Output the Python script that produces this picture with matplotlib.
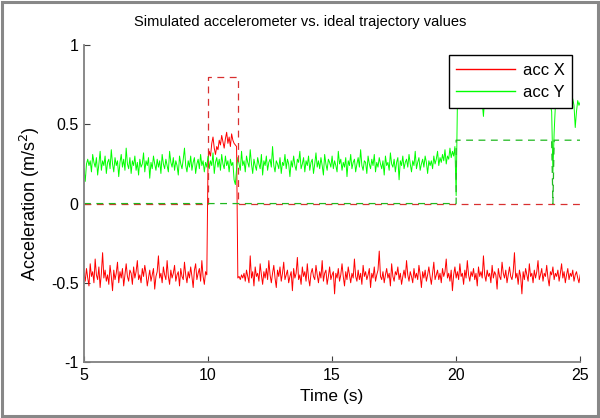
import numpy as np
import matplotlib
matplotlib.use("Agg")
import matplotlib.pyplot as plt
from matplotlib.patches import Rectangle

plt.rcParams['font.family'] = ['Liberation Sans', 'DejaVu Sans']

# ---------------- data ----------------
t_start, t_end = 5.0, 25.0

# measured acceleration X (sampled every 0.05 s from 5 s to 25 s)
acc_x_before = [-0.44,-0.49,-0.41,-0.47,-0.52,-0.38,-0.46,-0.43,-0.50,-0.35,
-0.45,-0.48,-0.40,-0.53,-0.44,-0.31,-0.47,-0.42,-0.49,-0.45,
-0.51,-0.39,-0.46,-0.55,-0.42,-0.48,-0.44,-0.37,-0.50,-0.43,
-0.47,-0.41,-0.52,-0.45,-0.38,-0.46,-0.49,-0.42,-0.44,-0.51,
-0.40,-0.47,-0.43,-0.36,-0.48,-0.45,-0.50,-0.41,-0.46,-0.39,
-0.44,-0.52,-0.47,-0.42,-0.49,-0.45,-0.41,-0.54,-0.46,-0.43,
-0.33,-0.47,-0.44,-0.50,-0.40,-0.45,-0.48,-0.36,-0.46,-0.51,
-0.42,-0.47,-0.44,-0.39,-0.49,-0.45,-0.43,-0.52,-0.41,-0.46,
-0.48,-0.37,-0.45,-0.50,-0.43,-0.47,-0.40,-0.46,-0.53,-0.42,
-0.38,-0.48,-0.44,-0.41,-0.49,-0.36,-0.46,-0.51,-0.43,-0.45]
acc_x_pulse = [0.28,0.33,0.30,0.38,0.42,0.35,0.31,0.36,0.34,0.40,0.37,0.43,
0.39,0.35,0.41,0.45,0.38,0.42,0.36,0.44,0.40,0.38,0.37,0.36]
acc_x_after = [-0.47,-0.46,-0.48,-0.45,-0.47,-0.44,-0.49,-0.42,-0.46,-0.50,-0.33,-0.47,-0.43,-0.52,-0.40,-0.46,-0.44,-0.49,-0.38,-0.45,
-0.51,-0.43,-0.47,-0.41,-0.48,-0.36,-0.45,-0.50,-0.44,-0.39,-0.47,-0.53,-0.42,-0.46,-0.40,-0.49,-0.44,-0.37,-0.48,-0.45,
-0.42,-0.50,-0.46,-0.43,-0.55,-0.41,-0.47,-0.44,-0.34,-0.48,-0.45,-0.51,-0.40,-0.46,-0.43,-0.49,-0.38,-0.47,-0.52,-0.44,
-0.41,-0.46,-0.48,-0.39,-0.45,-0.50,-0.43,-0.47,-0.36,-0.49,-0.44,-0.42,-0.51,-0.46,-0.40,-0.48,-0.45,-0.43,-0.57,-0.44,
-0.47,-0.41,-0.49,-0.45,-0.38,-0.46,-0.52,-0.43,-0.48,-0.40,-0.45,-0.50,-0.44,-0.47,-0.35,-0.46,-0.49,-0.42,-0.48,-0.44,
-0.51,-0.39,-0.46,-0.43,-0.48,-0.45,-0.41,-0.53,-0.44,-0.47,-0.40,-0.49,-0.45,-0.42,-0.30,-0.46,-0.48,-0.43,-0.50,-0.45,
-0.41,-0.47,-0.44,-0.52,-0.38,-0.46,-0.49,-0.43,-0.45,-0.40,-0.48,-0.44,-0.51,-0.46,-0.42,-0.47,-0.36,-0.45,-0.49,-0.43,
-0.46,-0.50,-0.41,-0.47,-0.44,-0.48,-0.39,-0.45,-0.53,-0.43,-0.47,-0.42,-0.49,-0.45,-0.40,-0.46,-0.51,-0.44,-0.37,-0.48,
-0.45,-0.42,-0.48,-0.44,-0.50,-0.41,-0.46,-0.43,-0.35,-0.47,-0.44,-0.49,-0.42,-0.55,-0.45,-0.40,-0.47,-0.43,-0.48,-0.38,
-0.46,-0.44,-0.51,-0.42,-0.47,-0.36,-0.45,-0.49,-0.43,-0.46,-0.41,-0.48,-0.44,-0.52,-0.40,-0.46,-0.43,-0.47,-0.33,-0.45,
-0.49,-0.42,-0.46,-0.44,-0.50,-0.39,-0.47,-0.43,-0.45,-0.54,-0.41,-0.46,-0.48,-0.37,-0.44,-0.47,-0.42,-0.50,-0.45,-0.40,
-0.46,-0.48,-0.43,-0.31,-0.47,-0.44,-0.51,-0.42,-0.46,-0.57,-0.43,-0.48,-0.41,-0.45,-0.49,-0.38,-0.46,-0.44,-0.50,-0.42,
-0.47,-0.43,-0.36,-0.48,-0.45,-0.41,-0.49,-0.44,-0.46,-0.39,-0.47,-0.52,-0.43,-0.45,-0.40,-0.48,-0.44,-0.46,-0.42,-0.49,
-0.44,-0.38,-0.47,-0.43,-0.50,-0.45,-0.41,-0.48,-0.44,-0.46,-0.42,-0.49,-0.45,-0.43,-0.47,-0.50,-0.45]

# measured acceleration Y
acc_y_before = [0.22,0.14,0.25,0.28,0.24,0.27,0.20,0.31,0.26,0.23,0.29,0.18,0.25,0.33,0.21,0.27,0.24,0.30,0.19,0.26,
0.28,0.22,0.34,0.25,0.20,0.29,0.24,0.27,0.17,0.26,0.31,0.23,0.28,0.21,0.35,0.25,0.22,0.29,0.19,0.27,
0.24,0.30,0.21,0.26,0.18,0.28,0.23,0.25,0.32,0.20,0.27,0.24,0.29,0.16,0.26,0.22,0.30,0.25,0.21,0.28,
0.23,0.27,0.19,0.31,0.25,0.22,0.28,0.24,0.20,0.33,0.26,0.23,0.29,0.21,0.27,0.24,0.18,0.30,0.25,0.22,
0.28,0.35,0.24,0.20,0.27,0.23,0.30,0.21,0.26,0.29,0.19,0.25,0.28,0.22,0.31,0.24,0.27,0.20,0.26,0.23,
0.30,0.22,0.27,0.24,0.32,0.19,0.26,0.29,0.23,0.28,0.21,0.31,0.25,0.22,0.30,0.24,0.27,0.20,0.28,0.24,
0.26,0.15,0.12,0.22,0.29,0.25,0.21,0.33,0.24,0.27,0.20,0.30,0.26,0.23,0.34,0.25,0.19,0.28,0.24,0.21,
0.29,0.25,0.22,0.31,0.18,0.27,0.24,0.30,0.21,0.26,0.28,0.23,0.36,0.24,0.20,0.27,0.25,0.22,0.29,0.19,
0.26,0.24,0.31,0.22,0.28,0.25,0.17,0.27,0.23,0.30,0.24,0.21,0.28,0.26,0.33,0.22,0.25,0.29,0.20,0.27,
0.24,0.30,0.21,0.26,0.28,0.19,0.25,0.32,0.23,0.27,0.22,0.29,0.24,0.18,0.31,0.25,0.21,0.28,0.26,0.23,
0.30,0.22,0.27,0.24,0.20,0.33,0.25,0.28,0.21,0.26,0.23,0.29,0.17,0.27,0.24,0.31,0.22,0.26,0.28,0.20,
0.25,0.29,0.23,0.34,0.24,0.21,0.27,0.26,0.19,0.30,0.25,0.22,0.28,0.24,0.31,0.20,0.26,0.23,0.29,0.25,
0.22,0.27,0.18,0.30,0.24,0.26,0.21,0.32,0.25,0.23,0.28,0.20,0.26,0.29,0.15,0.27,0.24,0.30,0.22,0.26,
0.28,0.23,0.31,0.25,0.20,0.27,0.24,0.33,0.22,0.26,0.29,0.21,0.25,0.28,0.23,0.30,0.26,0.19,0.27,0.24,
0.27,0.22,0.30,0.25,0.28,0.33,0.24,0.29,0.26,0.31,0.27,0.34,0.25,0.30,0.28,0.35,0.29,0.33,0.30,0.36]
acc_y_after = [0.05,
0.63,0.68,0.66,0.70,0.64,0.67,0.72,0.65,0.69,0.62,0.66,0.71,0.64,0.68,0.65,0.70,0.63,0.67,0.66,0.69,
0.64,0.55,0.67,0.70,0.65,0.68,0.62,0.66,0.71,0.64,0.69,0.63,0.67,0.65,0.72,0.66,0.61,0.68,0.64,0.70,
0.66,0.63,0.69,0.65,0.68,0.62,0.67,0.71,0.64,0.66,0.69,0.63,0.68,0.65,0.70,0.64,0.67,0.62,0.66,0.69,
0.65,0.68,0.63,0.67,0.64,0.70,0.66,0.62,0.68,0.65,0.69,0.63,0.66,0.70,0.64,0.62,0.58,
0.20,0.45,
0.62,0.68,0.71,0.66,0.73,0.69,0.75,0.70,0.72,0.67,0.74,0.70,0.71,0.68,0.66,0.62,0.48,0.58,0.65,0.62,0.64]

# ideal trajectory (breakpoints)
ideal_x_t = [5.0, 10.0, 10.0, 11.2, 11.2, 25.0]
ideal_x_v = [0.0, 0.0, 0.8, 0.8, 0.0, 0.0]
ideal_y_t = [5.0, 20.0, 20.0, 23.85, 23.9, 23.95, 25.0]
ideal_y_v = [0.0, 0.0, 0.4, 0.4, 0.0, 0.4, 0.4]

acc_x = np.array(acc_x_before + acc_x_pulse + acc_x_after)
acc_y = np.array(acc_y_before + acc_y_after)
t_x = np.linspace(t_start, t_end, len(acc_x))
t_y = np.linspace(t_start, t_end, len(acc_y))

# ---------------- plot ----------------
FS = 11.5
fig = plt.figure(figsize=(6.0, 4.18), dpi=100)
ax = fig.add_axes([0.14, 0.134, 0.827, 0.758])

ax.plot(t_x, acc_x, color='#ff0000', lw=0.7, label='acc X')
ax.plot(t_y, acc_y, color='#00ff00', lw=0.7, label='acc Y')
dash = (0, (5.5, 4.4))
ax.plot(ideal_x_t, ideal_x_v, color='#d83030', lw=0.9, ls=dash)
ax.plot(ideal_y_t, ideal_y_v, color='#20b820', lw=0.9, ls=dash)

ax.set_xlim(5, 25)
ax.set_ylim(-1, 1)
ax.set_xticks([5, 10, 15, 20, 25])
ax.set_yticks([-1, -0.5, 0, 0.5, 1])
ax.set_yticklabels(['-1', '-0.5', '0', '0.5', '1'])

for s in ['top', 'right']:
    ax.spines[s].set_visible(False)
for s in ['left', 'bottom']:
    ax.spines[s].set_color('#808080')
    ax.spines[s].set_linewidth(1.3)
ax.tick_params(direction='in', length=4, width=0.8, color='#404040',
               labelsize=FS, labelcolor='black', pad=4)

fig.text(0.5, 1 - 22 / 418, 'Simulated accelerometer vs. ideal trajectory values',
         fontsize=10.5, ha='center', va='center')
ax.set_xlabel('Time (s)', fontsize=12.5, labelpad=5)
ax.set_ylabel('Acceleration (m/s$^2$)', fontsize=13, labelpad=6)

leg = ax.legend(loc='upper right', bbox_to_anchor=(0.984, 0.968), borderaxespad=0,
                fontsize=12, handlelength=3.5, frameon=True, fancybox=False,
                framealpha=1, edgecolor='black', borderpad=0.45, labelspacing=0.45,
                handletextpad=0.5)
leg.get_frame().set_linewidth(1.0)
for ln in leg.get_lines():
    ln.set_linewidth(1.0)

fig.patches.append(Rectangle((0.004, 0.005), 0.992, 0.99, transform=fig.transFigure,
                             fill=False, edgecolor='#888888', lw=2.2))

fig.savefig('out.png', dpi=100)
